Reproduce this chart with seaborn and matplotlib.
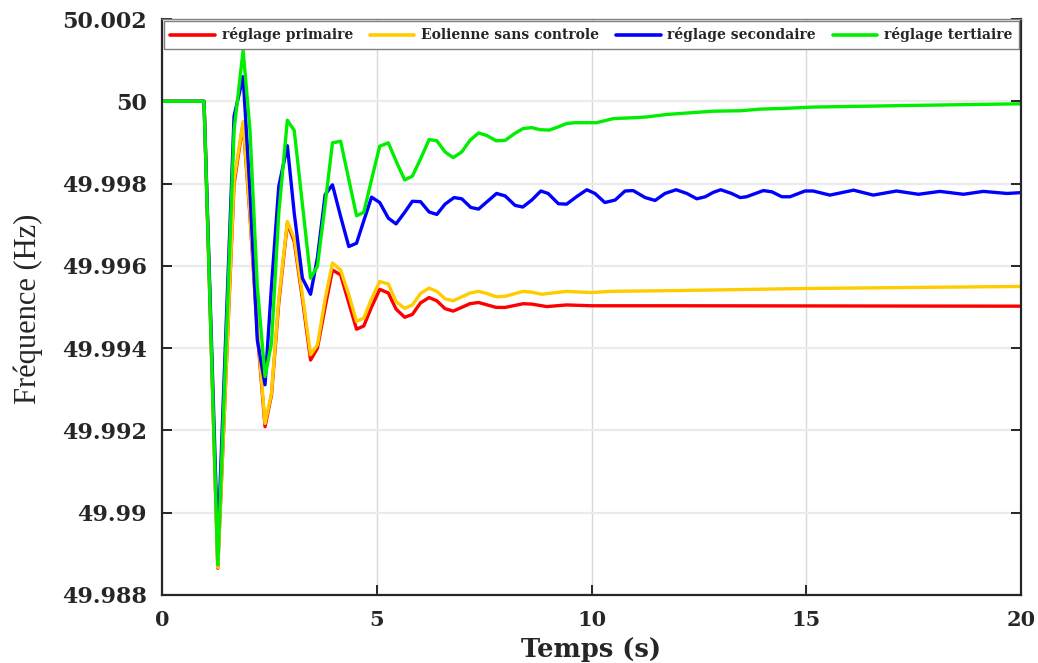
import numpy as np
import pandas as pd
import matplotlib
matplotlib.use("Agg")
import matplotlib.pyplot as plt
import seaborn as sns

# ---------------- data ----------------
t_early = [0, 0.98, 1.30, 1.68, 1.89, 2.05, 2.22, 2.40, 2.55, 2.72, 2.92, 3.08,
           3.27, 3.46, 3.62, 3.80, 3.97, 4.16, 4.35, 4.53, 4.70, 4.88, 5.07,
           5.27, 5.45, 5.65, 5.83, 6.02, 6.22, 6.40]

green_early = [50.0, 50.0, 49.98873, 49.9993, 50.00124, 49.9993, 49.9955, 49.99331,
               49.99412, 49.99728, 49.99954, 49.99929, 49.9975, 49.99570, 49.99599,
               49.9975, 49.99899, 49.99903, 49.9981, 49.99722, 49.9973, 49.9981,
               49.99891, 49.99899, 49.99855, 49.99809, 49.99818, 49.9986, 49.99907,
               49.99904]
blue_early = [50.0, 50.0, 49.98921, 49.99964, 50.0006, 49.9978, 49.9942, 49.99311,
              49.9955, 49.99793, 49.99892, 49.99728, 49.9957, 49.99531, 49.9962,
              49.99773, 49.99797, 49.9972, 49.99647, 49.99655, 49.9971, 49.99767,
              49.99754, 49.99716, 49.99702, 49.9973, 49.99757, 49.99756, 49.99731,
              49.99725]
yellow_early = [50.0, 50.0, 49.98867, 49.9981, 49.99951, 49.99728, 49.9945, 49.99217,
                49.9929, 49.9952, 49.99708, 49.99667, 49.9953, 49.99384, 49.99408,
                49.9952, 49.99607, 49.9959, 49.9953, 49.99465, 49.99473, 49.9952,
                49.99562, 49.99556, 49.99513, 49.99497, 49.99505, 49.99533, 49.99546,
                49.99538]
red_early = [50.0, 50.0, 49.98865, 49.9980, 49.99947, 49.9972, 49.9944, 49.99209,
             49.99286, 49.9951, 49.99704, 49.99659, 49.9952, 49.99371, 49.99400,
             49.9950, 49.9959, 49.99578, 49.9951, 49.99446, 49.99454, 49.9950,
             49.99543, 49.99534, 49.99495, 49.99475, 49.99482, 49.9951, 49.99523,
             49.99515]

t_green_tail = [6.59, 6.78, 6.98, 7.17, 7.37, 7.56, 7.78, 7.99, 8.20, 8.41, 8.61, 8.80,
                9.02, 9.23, 9.42, 9.62, 10.12, 10.51, 10.97, 11.29, 11.75, 12.29,
                12.84, 13.46, 13.92, 14.55, 15.16, 17.5, 20.0]
green_tail = [49.99877, 49.99863, 49.99877, 49.99905, 49.99923, 49.99917, 49.99904,
              49.99905, 49.99921, 49.99934, 49.99936, 49.99931, 49.99930, 49.99938,
              49.99946, 49.99948, 49.99948, 49.99958, 49.99960, 49.99962, 49.99968,
              49.99972, 49.99976, 49.99977, 49.99981, 49.99983, 49.99986, 49.99990,
              49.99994]

t_blue_tail = [6.59, 6.80, 6.98, 7.19, 7.37, 7.58, 7.79, 7.99, 8.22, 8.40, 8.61, 8.82,
               8.99, 9.23, 9.42, 9.65, 9.89, 10.08, 10.31, 10.55, 10.78, 10.97, 11.25,
               11.48, 11.71, 11.97, 12.22, 12.45, 12.65, 12.84, 13.01, 13.26, 13.46,
               13.61, 14.0, 14.2, 14.43, 14.62, 14.97, 15.16, 15.55, 16.1, 16.56,
               17.1, 17.61, 18.11, 18.66, 19.12, 19.67, 20.0]
blue_tail = [49.99750, 49.99766, 49.99763, 49.99742, 49.99738, 49.99757, 49.99776,
             49.99770, 49.99747, 49.99743, 49.99760, 49.99782, 49.99776, 49.99751,
             49.99750, 49.99768, 49.99785, 49.99776, 49.99754, 49.99760, 49.99782,
             49.99783, 49.99766, 49.99759, 49.99776, 49.99785, 49.99776, 49.99763,
             49.99768, 49.99779, 49.99785, 49.99776, 49.99766, 49.99768, 49.99783,
             49.99780, 49.99768, 49.99768, 49.99782, 49.99782, 49.99772, 49.99784,
             49.99772, 49.99782, 49.99774, 49.99781, 49.99774, 49.99781, 49.99776,
             49.99778]

t_yellow_tail = [6.59, 6.78, 7.17, 7.37, 7.56, 7.78, 7.99, 8.41, 8.61, 8.84, 9.42,
                 10.0, 10.43, 12.0, 15.0, 20.0]
yellow_tail = [49.99520, 49.99515, 49.99534, 49.99538, 49.99533, 49.99525, 49.99526,
               49.99538, 49.99536, 49.99531, 49.99538, 49.99535, 49.99538, 49.99540,
               49.99545, 49.99550]

t_red_tail = [6.59, 6.78, 7.17, 7.37, 7.78, 7.99, 8.41, 8.61, 8.96, 9.42, 10.0, 12.0,
              20.0]
red_tail = [49.99496, 49.99490, 49.99508, 49.99511, 49.99499, 49.99499, 49.99508,
            49.99507, 49.99501, 49.99505, 49.99503, 49.99503, 49.99502]

labels = ["réglage primaire", "Eolienne sans controle",
          "réglage secondaire", "réglage tertiaire"]
colors = ["#FF0000", "#FFCC00", "#0000FF", "#00EE00"]

x_ticks = [0, 5, 10, 15, 20]
x_tick_labels = ["0", "5", "10", "15", "20"]
y_ticks = [49.988, 49.990, 49.992, 49.994, 49.996, 49.998, 50.000, 50.002]
y_tick_labels = ["49.988", "49.99", "49.992", "49.994", "49.996", "49.998", "50", "50.002"]

series = {
    labels[0]: (t_early + t_red_tail, red_early + red_tail),
    labels[1]: (t_early + t_yellow_tail, yellow_early + yellow_tail),
    labels[2]: (t_early + t_blue_tail, blue_early + blue_tail),
    labels[3]: (t_early + t_green_tail, green_early + green_tail),
}
frames = []
for name, (tt, vv) in series.items():
    frames.append(pd.DataFrame({"t": tt, "f": vv, "serie": name}))
df = pd.concat(frames, ignore_index=True)

# ---------------- figure ----------------
sns.set_style("white")
plt.rcParams["font.family"] = ["DejaVu Serif", "DejaVu Sans"]

fig = plt.figure(figsize=(10.38, 6.63), dpi=100)
ax = fig.add_axes([0.156, 0.1026, 0.8277, 0.8687])

sns.lineplot(data=df, x="t", y="f", hue="serie", hue_order=labels,
             palette=dict(zip(labels, colors)), estimator=None, sort=False,
             linewidth=2.4, ax=ax, legend=False)

ax.set_xlim(0, 20)
ax.set_ylim(49.988, 50.002)
ax.set_xticks(x_ticks)
ax.set_xticklabels(x_tick_labels, fontfamily="DejaVu Serif", fontweight="bold",
                   fontsize=15)
ax.set_yticks(y_ticks)
ax.set_yticklabels(y_tick_labels, fontfamily="DejaVu Serif", fontweight="bold",
                   fontsize=16)

ax.grid(True, axis="y", color="#ebebeb", linewidth=1.6)
ax.grid(True, axis="x", color="#d9d9d9", linewidth=1.0)
ax.set_axisbelow(True)

for s in ["left", "bottom", "right", "top"]:
    ax.spines[s].set_visible(True)
    ax.spines[s].set_color("#262626")
    ax.spines[s].set_linewidth(1.6)
ax.spines["top"].set_color("#808080")
ax.spines["top"].set_linewidth(1.0)

ax.tick_params(axis="both", direction="in", length=7, width=1.4, color="#262626",
               right=True, top=False, left=True, bottom=True)
ax.tick_params(axis="y", pad=11)
ax.tick_params(axis="x", pad=10.5)

ax.set_xlabel("Temps (s)", fontfamily="DejaVu Serif", fontweight="bold",
              fontsize=18.5)
ax.xaxis.set_label_coords(0.5, -0.0735)
ax.set_ylabel("Fréquence (Hz)", fontfamily="Liberation Serif", fontsize=22)
ax.yaxis.set_label_coords(-0.139, 0.497)

handles = [plt.Line2D([0], [0], color=c, lw=2.6) for c in colors]
leg = ax.legend(handles, labels, loc="upper left", bbox_to_anchor=(0.0, 1.0, 1.0, 0.0),
                mode="expand", ncol=4, frameon=True, fancybox=False,
                prop={"family": "DejaVu Serif", "weight": "bold", "size": 10},
                handlelength=3.2, handletextpad=0.5, borderaxespad=0.15,
                borderpad=0.45)
leg.get_frame().set_edgecolor("#808080")
leg.get_frame().set_linewidth(1.0)
leg.get_frame().set_alpha(1.0)

fig.savefig("out.png", dpi=100)
